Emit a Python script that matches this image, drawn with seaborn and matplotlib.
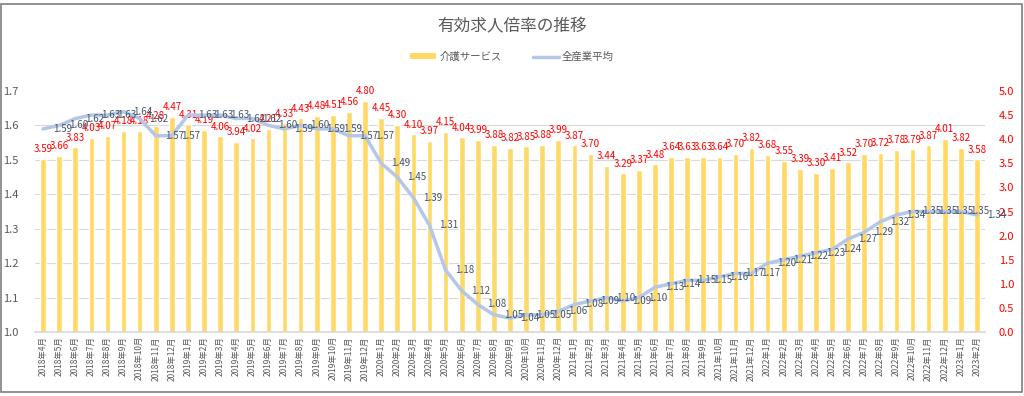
import numpy as np
import pandas as pd
import matplotlib
matplotlib.use("Agg")
import matplotlib.pyplot as plt
from matplotlib.patches import Patch, Rectangle
from matplotlib.lines import Line2D
import seaborn as sns

# months 2018/4 .. 2023/2
months = []
for y in range(2018, 2024):
    for m in range(1, 13):
        if (y == 2018 and m < 4) or (y == 2023 and m > 2):
            continue
        months.append(f"{y}年{m}月")

# 介護サービス (right axis, bars)
care = [3.59, 3.66, 3.83, 4.03, 4.07, 4.18, 4.18, 4.28, 4.47,
        4.31, 4.19, 4.06, 3.94, 4.02, 4.21, 4.33, 4.43, 4.48, 4.51, 4.56, 4.80,
        4.45, 4.30, 4.10, 3.97, 4.15, 4.04, 3.99, 3.88, 3.82, 3.85, 3.88, 3.99,
        3.87, 3.70, 3.44, 3.29, 3.37, 3.48, 3.64, 3.63, 3.63, 3.64, 3.70, 3.82,
        3.68, 3.55, 3.39, 3.30, 3.41, 3.52, 3.70, 3.72, 3.78, 3.79, 3.87, 4.01,
        3.82, 3.58]

# 全産業平均 (left axis, line)
all_ind = [1.59, 1.60, 1.62, 1.63, 1.63, 1.64, 1.62, 1.57, 1.57,
           1.63, 1.63, 1.63, 1.62, 1.62, 1.60, 1.59, 1.60, 1.59, 1.59, 1.57, 1.57,
           1.49, 1.45, 1.39, 1.31, 1.18, 1.12, 1.08, 1.05, 1.04, 1.05, 1.05, 1.06,
           1.08, 1.09, 1.10, 1.09, 1.10, 1.13, 1.14, 1.15, 1.15, 1.16, 1.17, 1.17,
           1.20, 1.21, 1.22, 1.23, 1.24, 1.27, 1.29, 1.32, 1.34, 1.35, 1.35, 1.35,
           1.35, 1.34]

left_ticks = [1.0, 1.1, 1.2, 1.3, 1.4, 1.5, 1.6, 1.7]
right_ticks = [0.0, 0.5, 1.0, 1.5, 2.0, 2.5, 3.0, 3.5, 4.0, 4.5, 5.0]

df = pd.DataFrame({"month": months, "care": care, "all": all_ind})
df["pos"] = np.arange(len(df))
n = len(df)

BAR = "#FFD966"
LINE = "#B4C7E7"
GRAY = "#595959"

sns.set_theme(style="white")
plt.rcParams["font.family"] = ["Noto Sans CJK JP", "DejaVu Sans"]

fig = plt.figure(figsize=(10.24, 3.96), dpi=100)
ax = fig.add_axes([35 / 1024, 1 - 332 / 396, 950 / 1024, 241 / 396])

# bars on the main axes (right-hand scale)
sns.barplot(data=df, x="month", y="care", color=BAR, saturation=1,
            width=0.35, ax=ax)
ax.set_ylim(0, 5)
ax.set_xlim(-0.5, n - 0.5)
ax.set_xticks(range(n))
ax.set_xticklabels(months, rotation=90, fontsize=6, color=GRAY)
ax.tick_params(axis="x", which="major", length=0, pad=3)
ax.set_xticks(np.arange(-0.5, n, 1), minor=True)
ax.tick_params(axis="x", which="minor", length=4, color="#D9D9D9", width=0.8)
ax.set_xlabel("")
ax.set_ylabel("")
for s in ["left", "right", "top"]:
    ax.spines[s].set_visible(False)
ax.spines["bottom"].set_color("#D9D9D9")

for i, v in enumerate(care):
    ax.annotate(f"{v:.2f}", (i, v), xytext=(0, 7), textcoords="offset points",
                ha="center", va="center", fontsize=7, color="#FF0000")

# line on twin axes (left-hand scale)
ax2 = ax.twinx()
sns.lineplot(data=df, x="pos", y="all", color=LINE, lw=2.5, ax=ax2)
ax2.set_ylim(1.0, 1.7)
ax2.set_xlim(-0.5, n - 0.5)
ax2.yaxis.tick_left()
ax2.set_yticks(left_ticks)
ax2.set_yticklabels([f"{t:.1f}" for t in left_ticks], color=GRAY, fontsize=8)
ax2.tick_params(axis="y", length=0, pad=12)
ax2.set_xlabel("")
ax2.set_ylabel("")
for s in ax2.spines.values():
    s.set_visible(False)

for i, v in enumerate(all_ind):
    ax2.annotate(f"{v:.2f}", (i, v), xytext=(7, 0), textcoords="offset points",
                 ha="left", va="center", fontsize=7, color="#44546A")

# right-hand ticks for the bars (after twinx, which resets tick side)
ax.yaxis.tick_right()
ax.set_yticks(right_ticks)
ax.set_yticklabels([f"{t:.1f}" for t in right_ticks], color="#FF0000", fontsize=8)
ax.tick_params(axis="y", which="major", length=0, pad=10)
# gridlines follow the left scale
ax.set_yticks(np.linspace(0, 5, len(left_ticks)), minor=True)
ax.grid(axis="y", which="minor", color="#D9D9D9", lw=0.8)
ax.grid(axis="y", which="major", visible=False)
ax.tick_params(axis="y", which="minor", length=0)
ax.set_axisbelow(True)

fig.text(0.5, 1 - 27 / 396, "有効求人倍率の推移", ha="center", va="center",
         fontsize=12, color=GRAY)
handles = [Patch(facecolor=BAR, edgecolor="none", label="介護サービス"),
           Line2D([], [], color=LINE, lw=2.5, label="全産業平均")]
fig.legend(handles=handles, loc="center", bbox_to_anchor=(0.5, 1 - 57 / 396),
           ncol=2, frameon=False, fontsize=7.5, labelcolor=GRAY,
           handlelength=2.5, handleheight=0.5, columnspacing=3.0, handletextpad=0.3)

fig.patches.append(Rectangle((1 / 1024, 4 / 396), 1021 / 1024, 388 / 396,
                             transform=fig.transFigure, fill=False,
                             edgecolor="#7F7F7F", lw=1.2))

fig.savefig("out.png", dpi=100)
